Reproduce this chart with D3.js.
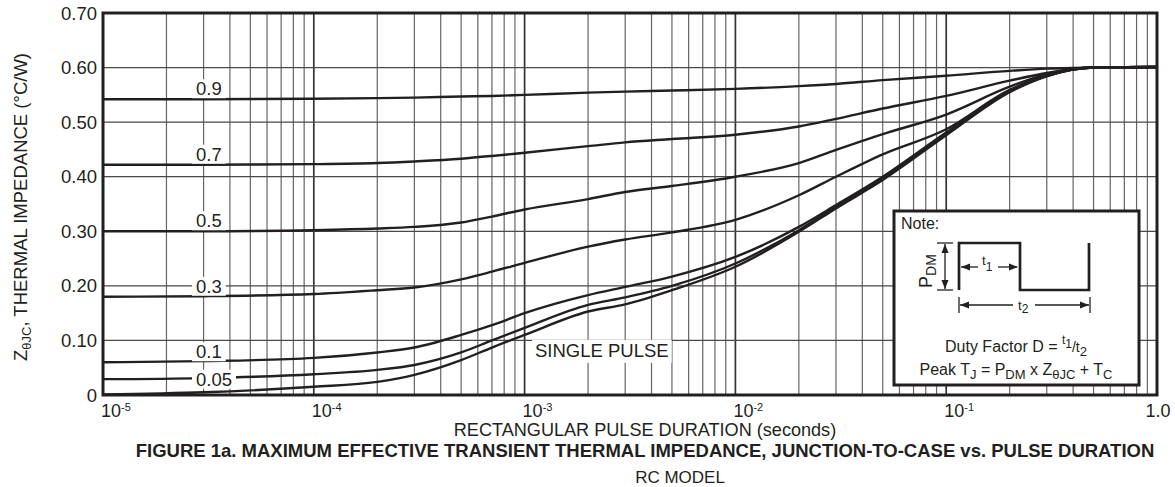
<!DOCTYPE html>
<html><head><meta charset="utf-8">
<script src="https://cdn.jsdelivr.net/npm/d3@7"></script>
<style>
body{margin:0;background:#fff}
svg{display:block}
text{font-family:"Liberation Sans",Arial,Helvetica,sans-serif;fill:#231f20}
</style>
</head><body>
<svg id="chart" width="1175" height="487"></svg>
<script>
// ---------- data ----------
const durations = [1e-5,3e-5,1e-4,2e-4,3e-4,5e-4,7e-4,1e-3,2e-3,3e-3,5e-3,1e-2,2e-2,3e-2,5e-2,1e-1,2e-1,3e-1,5e-1,1];
const zD09   = [.542,.542,.543,.544,.545,.547,.548,.550,.554,.556,.558,.561,.566,.570,.577,.585,.594,.598,.600,.601];
const zD07   = [.422,.422,.423,.425,.428,.433,.438,.444,.456,.463,.469,.477,.492,.506,.525,.548,.576,.590,.600,.601];
const zD05   = [.300,.300,.302,.305,.308,.316,.327,.340,.359,.372,.383,.400,.425,.449,.478,.514,.565,.588,.600,.601];
const zD03   = [.180,.181,.185,.192,.197,.212,.226,.242,.272,.285,.298,.321,.366,.400,.441,.487,.559,.586,.600,.601];
const zD01   = [.060,.062,.068,.078,.087,.110,.128,.150,.183,.198,.217,.253,.308,.348,.400,.481,.557,.585,.600,.601];
const zD005  = [.029,.031,.038,.046,.055,.078,.100,.123,.165,.179,.200,.241,.302,.345,.397,.478,.556,.585,.600,.601];
const zSingle= [.001,.005,.015,.024,.037,.064,.087,.110,.153,.166,.192,.235,.299,.342,.394,.476,.555,.584,.600,.601];
const seriesValues = [zD09,zD07,zD05,zD03,zD01,zD005,zSingle];
const seriesNames = ["0.9","0.7","0.5","0.3","0.1","0.05","SINGLE PULSE"];
const yTickValues = [0,0.1,0.2,0.3,0.4,0.5,0.6,0.7];
const yTickLabels = ["0","0.10","0.20","0.30","0.40","0.50","0.60","0.70"];
const xTickValues = [1e-5,1e-4,1e-3,1e-2,1e-1,1];
const xTickExponents = ["-5","-4","-3","-2","-1",null];

// ---------- layout ----------
const svg = d3.select("#chart");
const L=103, R=1157, T=13, B=395;
const x = d3.scaleLog().domain([1e-5,1]).range([L,R]);
const y = d3.scaleLinear().domain([0,0.7]).range([B,T]);
const ink = "#231f20";

// grid
const g = svg.append("g");
const minorX = [];
for (let e=-5;e<0;e++) for (let m=2;m<=9;m++) minorX.push(m*Math.pow(10,e));
g.selectAll("line.mx").data(minorX).join("line")
  .attr("x1",d=>x(d)).attr("x2",d=>x(d)).attr("y1",T).attr("y2",B)
  .attr("stroke","#666").attr("stroke-width",1.2);
g.selectAll("line.dx").data(xTickValues.slice(1,-1)).join("line")
  .attr("x1",d=>x(d)).attr("x2",d=>x(d)).attr("y1",T).attr("y2",B)
  .attr("stroke","#333").attr("stroke-width",1.7);
g.selectAll("line.gy").data(yTickValues.slice(1,-1)).join("line")
  .attr("x1",L).attr("x2",R).attr("y1",d=>y(d)).attr("y2",d=>y(d))
  .attr("stroke","#4a4a4a").attr("stroke-width",1.3);

// curves
svg.append("clipPath").attr("id","clip").append("rect").attr("x",L).attr("y",T).attr("width",R-L).attr("height",B-T);
const line = d3.line().x(d=>x(d[0])).y(d=>y(d[1])).curve(d3.curveMonotoneX);
svg.append("g").attr("clip-path","url(#clip)").selectAll("path").data(seriesValues).join("path")
  .attr("d",vals=>line(durations.map((t,i)=>[t,vals[i]])))
  .attr("fill","none").attr("stroke",ink).attr("stroke-width",2.4);

// curve labels (with white backing)
const lab = svg.append("g");
seriesNames.slice(0,6).forEach((name,i)=>{
  const v0 = seriesValues[i][0];
  const onCurve = name==="0.05";
  const by = onCurve ? y(v0)+6.5 : y(v0)-4;
  const t = lab.append("text").attr("x",196).attr("y",by).attr("font-size",18.5).text(name);
  const bb = t.node().getBBox();
  lab.insert("rect","text").attr("x",bb.x-4).attr("y",bb.y+1).attr("width",bb.width+8).attr("height",bb.height-2).attr("fill","#fff");
});
{
  const t = lab.append("text").attr("x",x(1.12e-3)).attr("y",y(0.07)).attr("font-size",18.5).text(seriesNames[6]);
  const bb = t.node().getBBox();
  lab.insert("rect","text").attr("x",bb.x-3).attr("y",bb.y).attr("width",bb.width+6).attr("height",bb.height+2).attr("fill","#fff");
}

// note box
const bx=894, by=211, bw=245, bh=174;
const nb = svg.append("g").attr("transform",`translate(${bx},${by})`);
nb.append("rect").attr("width",bw).attr("height",bh).attr("fill","#fff").attr("stroke",ink).attr("stroke-width",3);
nb.append("text").attr("x",7).attr("y",18).attr("font-size",16).text("Note:");
nb.append("path").attr("d","M65,79V32H126V79H195V32").attr("fill","none").attr("stroke",ink).attr("stroke-width",2.7);
function arrowHead(px,py,dir){
  const s=9,w=3.5;
  let p;
  if(dir==='l') p=`M${px},${py}L${px+s},${py-w}L${px+s},${py+w}Z`;
  if(dir==='r') p=`M${px},${py}L${px-s},${py-w}L${px-s},${py+w}Z`;
  if(dir==='u') p=`M${px},${py}L${px-w},${py+s}L${px+w},${py+s}Z`;
  if(dir==='d') p=`M${px},${py}L${px-w},${py-s}L${px+w},${py-s}Z`;
  nb.append("path").attr("d",p).attr("fill",ink);
}
function ln(x1,y1,x2,y2){nb.append("line").attr("x1",x1).attr("y1",y1).attr("x2",x2).attr("y2",y2).attr("stroke",ink).attr("stroke-width",1.3);}
// PDM arrow
ln(51,33,51,78); ln(43,32,59,32); ln(43,79,59,79);
arrowHead(51,33,'u'); arrowHead(51,78,'d');
const pdm = nb.append("text").attr("transform","translate(38,60) rotate(-90)").attr("text-anchor","middle").attr("font-size",18);
pdm.append("tspan").text("P"); pdm.append("tspan").attr("font-size",14).attr("dy",4).text("DM");
// t1 arrow
ln(67,56,84,56); ln(104,56,123,56);
arrowHead(67,56,'l'); arrowHead(124,56,'r');
const t1 = nb.append("text").attr("x",88).attr("y",54).attr("font-size",13);
t1.append("tspan").text("t"); t1.append("tspan").attr("font-size",12).attr("dy",6).text("1");
// t2 arrow
ln(66,94,119,94); ln(141,94,195,94); ln(65,86,65,102); ln(196,86,196,102);
arrowHead(66,94,'l'); arrowHead(195,94,'r');
const t2 = nb.append("text").attr("x",124).attr("y",99).attr("font-size",13);
t2.append("tspan").text("t"); t2.append("tspan").attr("font-size",12).attr("dy",3).text("2");
// formulas
const duty = nb.append("text").attr("x",122).attr("y",141).attr("text-anchor","middle").attr("font-size",16);
duty.append("tspan").text("Duty Factor D = ");
duty.append("tspan").attr("font-size",12).attr("dy",-8).text("t");
duty.append("tspan").attr("font-size",12).attr("dy",4).text("1");
duty.append("tspan").attr("font-size",14).attr("dy",4).text("/t");
duty.append("tspan").attr("font-size",13).attr("dy",4).text("2");
const peak = nb.append("text").attr("x",122).attr("y",164).attr("text-anchor","middle").attr("font-size",16);
[["Peak T",0,16],["J",4,13],[" = P",-4,16],["DM",4,13],[" x Z",-4,16],["θJC",4,13],[" + T",-4,16],["C",4,13]]
  .forEach(([s,dy,fs])=>peak.append("tspan").attr("dy",dy).attr("font-size",fs).text(s));

// border
svg.append("rect").attr("x",L).attr("y",T).attr("width",R-L).attr("height",B-T)
  .attr("fill","none").attr("stroke",ink).attr("stroke-width",3);

// y tick labels
svg.selectAll("text.yt").data(yTickValues).join("text")
  .attr("x",97).attr("y",d=>y(d)+6.5).attr("text-anchor","end").attr("font-size",18.5)
  .text((d,i)=>yTickLabels[i]);

// x tick labels
xTickValues.forEach((v,i)=>{
  if(xTickExponents[i]===null){
    svg.append("text").attr("x",x(v)+1).attr("y",416.5).attr("text-anchor","middle").attr("font-size",18).text("1.0");
  } else {
    const t = svg.append("text").attr("x",x(v)-2).attr("y",416.5).attr("font-size",18);
    t.append("tspan").text("10");
    t.append("tspan").attr("font-size",11).attr("dy",-6).text(xTickExponents[i]);
  }
});

// axis titles
svg.append("text").attr("x",645).attr("y",436).attr("text-anchor","middle").attr("font-size",18.1)
  .text("RECTANGULAR PULSE DURATION (seconds)");
svg.append("text").attr("x",645).attr("y",456.5).attr("text-anchor","middle").attr("font-size",18.5).attr("font-weight","bold")
  .text("FIGURE 1a. MAXIMUM EFFECTIVE TRANSIENT THERMAL IMPEDANCE, JUNCTION-TO-CASE vs. PULSE DURATION");
svg.append("text").attr("x",680).attr("y",483).attr("text-anchor","middle").attr("font-size",17)
  .text("RC MODEL");
const yl = svg.append("text").attr("transform","translate(27,207) rotate(-90)").attr("text-anchor","middle").attr("font-size",18.5);
yl.append("tspan").text("Z");
yl.append("tspan").attr("font-size",13).attr("dy",4).text("θJC");
yl.append("tspan").attr("dy",-4).text(", THERMAL IMPEDANCE (°C/W)");
</script>
</body></html>
